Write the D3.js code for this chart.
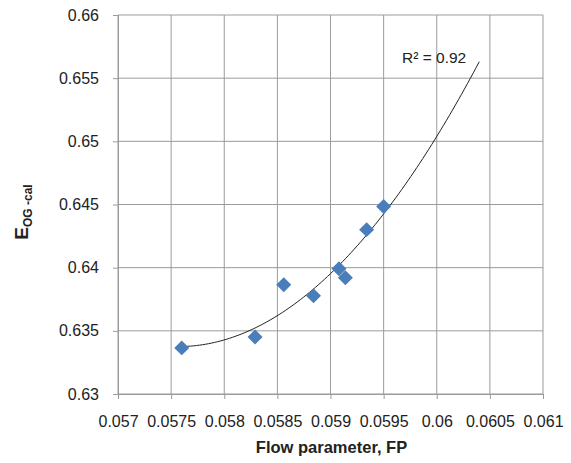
<!DOCTYPE html>
<html>
<head>
<meta charset="utf-8">
<script src="https://cdn.jsdelivr.net/npm/d3@7"></script>
<style>
  body { margin: 0; background: #fff; }
  text { font-family: "Liberation Sans", Arial, sans-serif; fill: #222; }
</style>
</head>
<body>
<div id="chart"></div>
<script>
// data
var flowParam = [0.05760, 0.05829, 0.05856, 0.05884, 0.05908, 0.05914, 0.05934, 0.05950];
var eogCal    = [0.63365, 0.63452, 0.63865, 0.63778, 0.63991, 0.63920, 0.64301, 0.64484];
var xTicks = [0.057, 0.0575, 0.058, 0.0585, 0.059, 0.0595, 0.06, 0.0605, 0.061];
var yTicks = [0.63, 0.635, 0.64, 0.645, 0.65, 0.655, 0.66];
var rSquaredLabel = "R\u00b2 = 0.92";
var trendForecast = 0.0009;

var W = 571, H = 463;
var margin = {top: 15, right: 28, bottom: 69, left: 118};
var width = W - margin.left - margin.right,
    height = H - margin.top - margin.bottom;

var svg = d3.select("#chart").append("svg")
    .attr("width", W).attr("height", H);
var g = svg.append("g")
    .attr("transform", "translate(" + margin.left + "," + margin.top + ")");

var x = d3.scaleLinear().domain([0.057, 0.061]).range([0, width]);
var y = d3.scaleLinear().domain([0.63, 0.66]).range([height, 0]);

// grid
g.selectAll(".hgrid").data(yTicks).enter().append("line")
    .attr("x1", 0).attr("x2", width)
    .attr("y1", d => y(d)).attr("y2", d => y(d))
    .attr("stroke", "#9b9b9b").attr("stroke-width", 1);
g.selectAll(".vgrid").data(xTicks).enter().append("line")
    .attr("y1", 0).attr("y2", height)
    .attr("x1", d => x(d)).attr("x2", d => x(d))
    .attr("stroke", "#9b9b9b").attr("stroke-width", 1);

// axes
var xAxis = g.append("g").attr("transform", "translate(0," + height + ")")
    .call(d3.axisBottom(x).tickValues(xTicks).tickSize(5).tickPadding(17)
        .tickFormat(d => String(+d.toFixed(4))));
var yAxis = g.append("g")
    .call(d3.axisLeft(y).tickValues(yTicks).tickSize(5).tickPadding(14)
        .tickFormat(d => String(+d.toFixed(3))));
[xAxis, yAxis].forEach(function(a){
    a.select(".domain").attr("stroke", "#9b9b9b");
    a.selectAll(".tick line").attr("stroke", "#9b9b9b");
    a.selectAll(".tick text").style("font-size", "16px").attr("fill", "#222");
});

// polynomial (order 2) trendline, least squares
function quadFit(xs, ys){
    let x0 = d3.mean(xs);
    let S = [0,0,0,0,0], T = [0,0,0];
    xs.forEach(function(v, i){
        let u = v - x0;
        for (let k = 0; k < 5; k++) S[k] += Math.pow(u, k);
        for (let k = 0; k < 3; k++) T[k] += ys[i] * Math.pow(u, k);
    });
    let M = [[S[0],S[1],S[2],T[0]],[S[1],S[2],S[3],T[1]],[S[2],S[3],S[4],T[2]]];
    for (let c = 0; c < 3; c++){
        for (let r = c + 1; r < 3; r++){
            let f = M[r][c] / M[c][c];
            for (let k = c; k < 4; k++) M[r][k] -= f * M[c][k];
        }
    }
    let b = [0,0,0];
    for (let r = 2; r >= 0; r--){
        let s = M[r][3];
        for (let k = r + 1; k < 3; k++) s -= M[r][k] * b[k];
        b[r] = s / M[r][r];
    }
    return function(v){ let u = v - x0; return b[0] + b[1]*u + b[2]*u*u; };
}
var trend = quadFit(flowParam, eogCal);
var x0 = d3.min(flowParam), x1 = d3.max(flowParam) + trendForecast;
var trendPts = d3.range(0, 101).map(i => x0 + (x1 - x0) * i / 100);
g.append("path")
    .datum(trendPts)
    .attr("fill", "none").attr("stroke", "#222").attr("stroke-width", 1)
    .attr("d", d3.line().x(d => x(d)).y(d => y(trend(d))));

// markers
g.selectAll(".pt").data(flowParam).enter().append("path")
    .attr("d", d3.symbol().type(d3.symbolSquare).size(112))
    .attr("transform", (d, i) => "translate(" + x(d) + "," + y(eogCal[i]) + ") rotate(45)")
    .attr("fill", "#4a7ebb");

// R² label
g.append("text")
    .attr("x", 284).attr("y", 48)
    .style("font-size", "15.5px")
    .text(rSquaredLabel);

// axis titles
svg.append("text")
    .attr("x", margin.left + x(0.059) + 1).attr("y", 453)
    .attr("text-anchor", "middle")
    .style("font-size", "16.5px").style("font-weight", "bold")
    .text("Flow parameter, FP");

var yt = svg.append("text")
    .attr("transform", "translate(28,212) rotate(-90)")
    .attr("text-anchor", "middle")
    .style("font-weight", "bold");
yt.append("tspan").style("font-size", "19px").text("E");
yt.append("tspan").style("font-size", "12px").attr("dy", 4).text("OG -cal");
</script>
</body>
</html>
